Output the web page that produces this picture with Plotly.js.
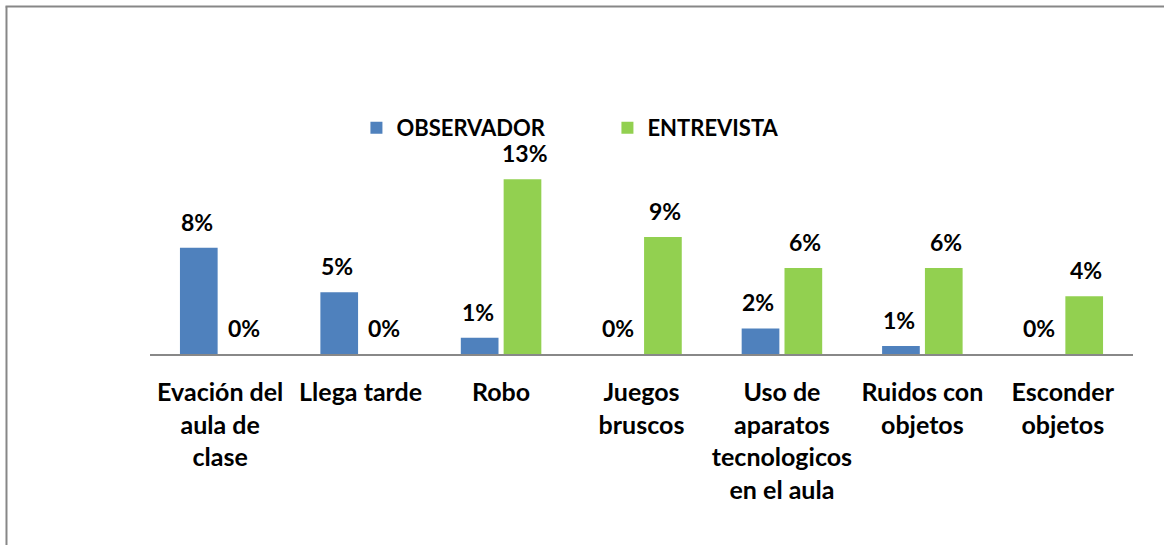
<!DOCTYPE html>
<html>
<head>
<meta charset="utf-8">
<script src="https://cdn.plot.ly/plotly-3.0.1.min.js"></script>
<style>
  html, body { margin: 0; padding: 0; background: #fff; }
  #chart { width: 1164px; height: 545px; }
</style>
</head>
<body>
<div id="chart"></div>
<script>
// ---- data ----
var categories = [
  "Evación del<br>aula de<br>clase",
  "Llega tarde",
  "Robo",
  "Juegos<br>bruscos",
  "Uso de<br>aparatos<br>tecnologicos<br>en el aula",
  "Ruidos con<br>objetos",
  "Esconder<br>objetos"
];
var seriesNames = ["OBSERVADOR", "ENTREVISTA"];
var observador = [0.079, 0.046, 0.012, 0.000, 0.019, 0.006, 0.000];
var entrevista = [0.000, 0.000, 0.130, 0.087, 0.064, 0.064, 0.043];
var seriesColors = ["#4F81BD", "#92D050"];

var fontFamily = "Lato, 'Open Sans', sans-serif";

var traces = [
  {
    type: "bar", name: seriesNames[0], x: categories, y: observador,
    marker: { color: seriesColors[0] }, hoverinfo: "x+y"
  },
  {
    type: "bar", name: seriesNames[1], x: categories, y: entrevista,
    marker: { color: seriesColors[1] }, hoverinfo: "x+y"
  }
];

function pct(v) { return Math.round(v * 100) + "%"; }

var annotations = [];
[observador, entrevista].forEach(function (vals, si) {
  vals.forEach(function (v, i) {
    annotations.push({
      x: categories[i], y: v, xref: "x", yref: "y",
      text: pct(v), showarrow: false,
      xshift: si === 0 ? -23.5 : 23.5, yshift: 26,
      yanchor: "middle", xanchor: "center",
      font: { family: fontFamily, size: 23, color: "#000", weight: "bold" }
    });
  });
});

var layout = {
  width: 1164, height: 545,
  margin: { l: 150, r: 31, t: 85, b: 191, pad: 0 },
  paper_bgcolor: "#fff", plot_bgcolor: "#fff",
  barmode: "group", bargap: 0.39, bargroupgap: 0.12,
  showlegend: true,
  legend: {
    orientation: "h", x: 0.210, y: 0.840, xanchor: "left", yanchor: "middle",
    entrywidth: 206, entrywidthmode: "pixels",
    font: { family: fontFamily, size: 22, color: "#000", weight: "bold" },
    bgcolor: "rgba(0,0,0,0)"
  },
  xaxis: {
    type: "category", showgrid: false, zeroline: false,
    showline: true, linecolor: "#888888", linewidth: 2,
    ticks: "", ticklabelstandoff: 15,
    tickfont: { family: fontFamily, size: 25, color: "#000", weight: "bold" },
    fixedrange: true
  },
  yaxis: {
    range: [0, 0.2], visible: false, showgrid: false, zeroline: false,
    fixedrange: true
  },
  annotations: annotations,
  shapes: [
    { type: "line", xref: "paper", yref: "paper",
      x0: -0.146, x1: -0.146, y0: 1.292, y1: -0.72,
      line: { color: "#878787", width: 2 } },
    { type: "line", xref: "paper", yref: "paper",
      x0: -0.147, x1: 1.04, y0: 1.292, y1: 1.292,
      line: { color: "#878787", width: 2 } }
  ]
};

Plotly.newPlot("chart", traces, layout, { displayModeBar: false, staticPlot: false });
</script>
</body>
</html>
